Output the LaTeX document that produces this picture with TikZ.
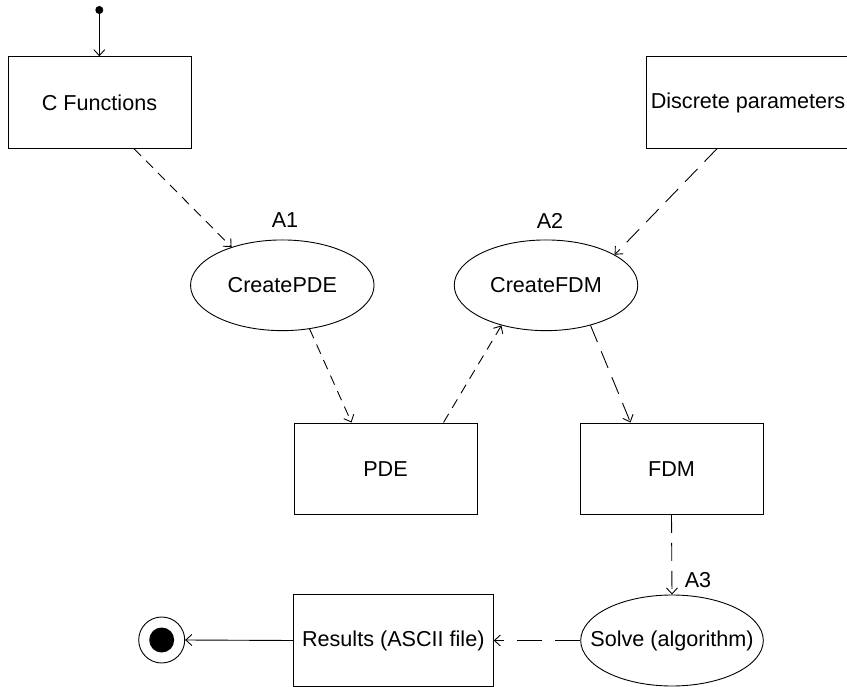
\documentclass[tikz,border=0pt]{standalone}
\usepackage{fontspec}
\setmainfont{Liberation Sans}
\usetikzlibrary{arrows.meta,shapes.geometric}
\begin{document}
\begin{tikzpicture}[x=1pt,y=-1pt,
  every node/.style={font=\fontsize{21.6}{26}\selectfont},
  box/.style={draw,line width=0.9pt,minimum width=183pt,minimum height=91.5pt,inner sep=0pt},
  act/.style={draw,ellipse,line width=0.9pt,inner sep=0pt},
  tip/.style={-{Straight Barb[length=6pt,width=11pt,line width=0.9pt]}},
  flow/.style={tip,line width=0.9pt},
  sdash/.style={flow,dash pattern=on 10pt off 7pt},
  ldash/.style={flow,dash pattern=on 18pt off 10pt}]
\useasboundingbox (0,0) rectangle (847,687);
\clip (0,0) rectangle (847,687);
% nodes
\node[circle,fill=black,inner sep=0pt,minimum size=8pt] (start) at (99.3,10) {};
\node[box] (cf) at (99.5,102.5) {C Functions};
\node[box,minimum width=204pt] (dp) at (748,102.5) {Discrete parameters};
\node[act,minimum width=183.5pt,minimum height=90.7pt,label={center:CreatePDE}] (cpde) at (282.3,285.3) {};
\node[act,minimum width=183.5pt,minimum height=90.7pt,label={center:CreateFDM}] (cfdm) at (546,285.3) {};
\node[box] (pde) at (385.5,468.7) {PDE};
\node[box] (fdm) at (671.5,468.7) {FDM};
\node[act,minimum width=182.6pt,minimum height=91pt,label={center:Solve (algorithm)}] (solve) at (672,640.5) {};
\node[box,minimum width=200pt] (res) at (393.3,640.5) {Results (ASCII file)};
\node[circle,draw,line width=0.9pt,minimum size=46pt,inner sep=0pt] (endc) at (161.7,640) {};
\node[circle,fill=black,minimum size=25pt,inner sep=0pt] (endd) at (endc.center) {};
\node (a1) at (285,220.5) {A1};
\node (a2) at (550,220.5) {A2};
\node (a3) at (698,580) {A3};
% connectors
\draw[flow] (start) -- (start |- cf.north);
\draw[sdash] ([xshift=34.5pt]cf.south) -- (cpde.143);
\draw[ldash] ([xshift=-31pt]dp.south) -- (cfdm.24);
\draw[sdash] (cpde.-58) -- ([xshift=-34pt]pde.north);
\draw[sdash] ([xshift=58pt]pde.north) -- (cfdm.222.7);
\draw[ldash] (cfdm.-42) -- ([xshift=-41pt]fdm.north);
\draw[ldash] (fdm.south) -- (solve.north);
\draw[flow,dash pattern=on 25pt off 13pt] (solve.west) -- (res.east);
\draw[flow] (res.west) -- (endc.east);
\end{tikzpicture}
\end{document}
